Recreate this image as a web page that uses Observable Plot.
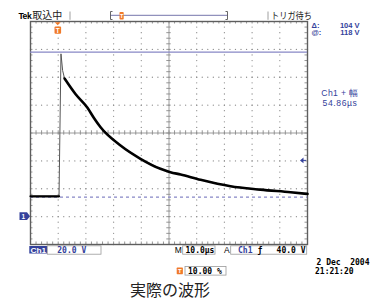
<!DOCTYPE html>
<html>
<head>
<meta charset="utf-8">
<script src="https://cdn.jsdelivr.net/npm/d3@7"></script>
<script src="https://cdn.jsdelivr.net/npm/@observablehq/plot@0.6"></script>
<style>
  html, body { margin: 0; padding: 0; background: #fff; }
  #chart { width: 376px; height: 300px; }
</style>
</head>
<body>
<div id="chart"></div>
<script>
// ---- Waveform (time in µs, voltage in V) ----
const timeUs = [-10, 0.3, 1.0, 1.6, 2.3, 6.3, 10.5, 12.9, 15.3, 22.5, 29.7, 36.9, 40.5, 44.2, 51.4, 62.2, 73.0, 83.9, 90];
const volts  = [14.6, 14.6, 116.8, 104.8, 99.1, 87.8, 78.3, 70.8, 64.1, 51.0, 41.5, 34.3, 31.9, 30.2, 26.4, 21.8, 19.4, 17.5, 16.3];

// ---- Screen settings ----
const timeDomain = [-10, 90];      // 10 µs/div, trigger at 10 %
const voltDomain = [-20, 140];     // 20 V/div, ground one division above bottom
const cursorAt = 118;              // "@: 118 V"
const cursorDelta = 104;           // "Δ: 104 V"
const triggerTime = 0;
const triggerLevel = 40;
const groundLevel = 0;
const majorTimes = [0, 10, 20, 30, 50, 60, 70, 80];
const majorVolts = [0, 20, 40, 80, 100, 120];
const centerTime = 40;
const centerVolt = 60;
const minorTimes = d3.range(-10, 90.001, 2);
const minorVolts = d3.range(-20, 140.001, 4);

// ---- Texts ----
const brandText = "Tek";
const acqText = "取込中";
const trigStateText = "トリガ待ち";
const deltaLabel = "Δ:";
const deltaValue = "104 V";
const atLabel = "@:";
const atValue = "118 V";
const measureLabel = "Ch1 + 幅";
const measureValue = "54.86µs";
const chLabel = "Ch1";
const chScale = "20.0 V";
const timebaseLabel = "M";
const timebaseValue = "10.0µs";
const trigModeLabel = "A";
const trigSource = "Ch1";
const trigSlope = "ƒ";
const trigLevelText = "40.0 V";
const trigPosText = "10.00 %";
const dateText = "2 Dec  2004";
const clockText = "21:21:20";
const captionText = "実際の波形";

const BLUE = "#34419b";
const ORANGE = "#f07a2a";
const CURSOR = "#8787c6";
const SANS = "'Liberation Sans', Arial, sans-serif";
const MONO = "'DejaVu Sans Mono', monospace";
const CJK = "'Noto Sans CJK JP', sans-serif";

const idx = d3.range(timeUs.length);
const gridDots = [
  ...majorTimes.flatMap(t => minorVolts.map(v => ({t, v}))),
  ...majorVolts.flatMap(v => minorTimes.map(t => ({t, v})))
];

function chrome(index, scales, values, dims) {
  const X = scales.x, Y = scales.y;
  const R = dims.width - dims.marginRight;
  const T = dims.marginTop;
  const g = d3.create("svg:g").attr("text-anchor", "start");
  const txt = (x, y, s, o = {}) => {
    const e = g.append("text")
      .attr("x", x).attr("y", y)
      .attr("fill", o.fill || "#000")
      .attr("font-size", o.size || 8)
      .attr("font-family", o.font || SANS)
      .attr("font-weight", o.weight || "normal")
      .attr("text-anchor", o.anchor || "start")
      .style("white-space", "pre")
      .text(s);
    if (o.len) e.attr("textLength", o.len).attr("lengthAdjust", "spacingAndGlyphs");
    if (o.ls) e.attr("letter-spacing", o.ls);
    return e;
  };
  const box = (x, y, w, h, fill, stroke) =>
    g.append("rect").attr("x", x).attr("y", y).attr("width", w).attr("height", h)
      .attr("fill", fill).attr("stroke", stroke || "none").attr("stroke-width", 0.8);

  // header: brand + acquisition state in one line
  const head = g.append("text").attr("x", 18.5).attr("y", 18.7).attr("fill", "#000").attr("text-anchor", "start");
  head.append("tspan").attr("font-family", SANS).attr("font-weight", "bold")
    .attr("font-size", 8.6).attr("letter-spacing", -0.5).text(brandText);
  head.append("tspan").attr("dx", 1).attr("font-family", CJK).attr("font-size", 10)
    .attr("fill", "#222").attr("letter-spacing", 0).text(acqText);
  g.append("path").attr("d", "M70,11.5V19.8M268,11.5V19.8").attr("stroke", "#888").attr("stroke-width", 0.8);
  g.append("path").attr("d", "M110.5,15.3H227.5").attr("stroke", "#7676ac").attr("stroke-width", 1);
  g.append("path").attr("d", "M112.5,11.5H110.5V19.5H112.5M225.5,11.5H227.5V19.5H225.5")
    .attr("stroke", "#555").attr("stroke-width", 0.9).attr("fill", "none");
  box(119.5, 12, 4.2, 7.5, ORANGE).attr("rx", 0.8);
  txt(121.6, 18, "T", {fill: "#fff", size: 5.5, weight: "bold", anchor: "middle"});
  txt(271, 18.5, trigStateText, {size: 9.2, font: CJK, fill: "#222", len: 41});

  // cursor readouts
  txt(311.5, 27.6, deltaLabel, {fill: BLUE, size: 7.5, weight: "bold"});
  txt(359.5, 27.6, deltaValue, {fill: BLUE, size: 7.5, weight: "bold", anchor: "end"});
  txt(311.5, 35.4, atLabel, {fill: BLUE, size: 7.5, weight: "bold"});
  txt(359.5, 35.4, atValue, {fill: BLUE, size: 7.5, weight: "bold", anchor: "end"});

  // measurement
  txt(340, 96.3, measureLabel, {fill: BLUE, size: 8.6, anchor: "middle", ls: 0.4});
  txt(340, 106.3, measureValue, {fill: BLUE, size: 8.6, anchor: "middle", ls: 0.6});

  // trigger marker (top)
  const xt = X(triggerTime);
  g.append("path").attr("d", `M${xt - 3},${T + 1.2}L${xt + 3},${T + 1.2}L${xt},${T + 4.2}Z`).attr("fill", ORANGE);
  box(xt - 3.2, T + 5.6, 6.6, 7.2, ORANGE).attr("rx", 1);
  txt(xt + 0.1, T + 11.6, "T", {fill: "#fff", size: 6.5, weight: "bold", anchor: "middle"});

  // ground marker (left)
  const yg = Y(groundLevel);
  g.append("path").attr("d", `M19.5,${yg - 3.8}H27L30,${yg}L27,${yg + 3.8}H19.5Z`).attr("fill", BLUE);
  txt(23.4, yg + 2.4, "1", {fill: "#fff", size: 6.5, weight: "bold", anchor: "middle"});

  // trigger level marker (right)
  const yl = Y(triggerLevel);
  g.append("path").attr("d", `M${R - 7},${yl}L${R - 3.5},${yl - 2.8}L${R - 3.5},${yl + 2.8}Z`).attr("fill", BLUE);
  g.append("path").attr("d", `M${R - 4},${yl}H${R - 1}`).attr("stroke", BLUE).attr("stroke-width", 1);

  // bottom status bar
  box(29.3, 246, 18, 7.5, BLUE);
  txt(30.4, 252.6, chLabel, {fill: "#fff", size: 8, weight: "bold", len: 15.8});
  box(47.3, 245.8, 53.7, 8.4, "#fff", "#9a9a9a");
  txt(57.3, 252.8, chScale, {fill: BLUE, size: 8, font: MONO, weight: "bold"});
  txt(174.8, 253, timebaseLabel, {size: 8.5});
  box(182.7, 245.8, 32.3, 8.4, "#fff", "#9a9a9a");
  txt(185.5, 252.8, timebaseValue, {size: 8, font: MONO, weight: "bold"});
  txt(224, 253, trigModeLabel, {size: 8.5});
  box(230.7, 245.8, 76, 8.4, "#fff", "#9a9a9a");
  txt(238, 252.8, trigSource, {fill: BLUE, size: 8, font: MONO, weight: "bold"});
  txt(260, 252.8, trigSlope, {size: 8, font: MONO, weight: "bold", anchor: "middle"});
  txt(305.5, 252.8, trigLevelText, {size: 8, font: MONO, weight: "bold", anchor: "end"});

  // trigger position
  box(176.7, 267.6, 6.2, 6.6, ORANGE).attr("rx", 0.6);
  txt(179.8, 273.2, "T", {fill: "#fff", size: 6, weight: "bold", anchor: "middle"});
  box(185, 266.5, 41, 8.6, "#fff", "#9a9a9a");
  txt(188, 273.6, trigPosText, {size: 8, font: MONO, weight: "bold"});

  // date / time
  txt(369.5, 264.6, dateText, {size: 8, font: MONO, weight: "bold", anchor: "end"});
  txt(315, 273.6, clockText, {size: 8, font: MONO, weight: "bold"});

  // caption
  txt(170, 295.5, captionText, {size: 16, font: CJK, fill: "#222", anchor: "middle"});

  return g.node();
}

const plot = Plot.plot({
  width: 376,
  height: 300,
  marginLeft: 30,
  marginRight: 69,
  marginTop: 21,
  marginBottom: 56,
  x: {domain: timeDomain, axis: null},
  y: {domain: voltDomain, axis: null},
  style: {background: "#fff", overflow: "visible"},
  marks: [
    // dotted graticule
    Plot.dot(gridDots, {x: "t", y: "v", r: 0.65, fill: "#8d8d8d", stroke: null}),
    // center cross with minor ticks
    Plot.ruleX([centerTime], {stroke: "#9c9c9c", strokeWidth: 1}),
    Plot.ruleY([centerVolt], {stroke: "#9c9c9c", strokeWidth: 1}),
    Plot.ruleX(minorTimes, {x: d => d, y1: centerVolt - 1.6, y2: centerVolt + 1.6, stroke: "#8a8a8a", strokeWidth: 0.9}),
    Plot.ruleY(minorVolts, {y: d => d, x1: centerTime - 0.8, x2: centerTime + 0.8, stroke: "#8a8a8a", strokeWidth: 0.9}),
    // edge ticks
    Plot.ruleX(minorTimes, {x: d => d, y1: voltDomain[0], y2: voltDomain[0] + 1.8, stroke: "#8a8a8a", strokeWidth: 0.9}),
    Plot.ruleX(minorTimes, {x: d => d, y1: voltDomain[1] - 1.8, y2: voltDomain[1], stroke: "#8a8a8a", strokeWidth: 0.9}),
    Plot.ruleY(minorVolts, {y: d => d, x1: timeDomain[0], x2: timeDomain[0] + 0.9, stroke: "#8a8a8a", strokeWidth: 0.9}),
    Plot.ruleY(minorVolts, {y: d => d, x1: timeDomain[1] - 0.9, x2: timeDomain[1], stroke: "#8a8a8a", strokeWidth: 0.9}),
    Plot.frame({stroke: "#5e5e5e", strokeWidth: 1.4}),
    // cursors
    Plot.ruleY([cursorAt], {stroke: CURSOR, strokeWidth: 1.1}),
    Plot.ruleY([cursorAt - cursorDelta], {stroke: CURSOR, strokeWidth: 1.1, strokeDasharray: "3,3"}),
    // waveform: thin everywhere, heavy where the trace is dense
    Plot.line(idx, {x: i => timeUs[i], y: i => volts[i], stroke: "#555", strokeWidth: 1}),
    Plot.line(idx, {x: i => timeUs[i], y: i => volts[i], filter: i => i <= 1, stroke: "#000", strokeWidth: 2.2}),
    Plot.line(idx, {x: i => timeUs[i], y: i => volts[i], filter: i => i >= 4, stroke: "#000", strokeWidth: 2.6, curve: "monotone-x"}),
    chrome
  ]
});
document.getElementById("chart").appendChild(plot);
</script>
</body>
</html>
